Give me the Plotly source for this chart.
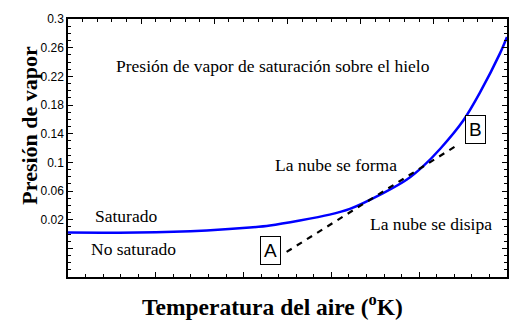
import plotly.graph_objects as go

# Saturation vapour pressure curve (x in arbitrary temperature units 0..5)
curve_x = [0.0, 0.79, 1.58, 2.07, 2.30, 2.98, 3.21, 3.59, 3.86, 4.04, 4.24, 4.50, 4.69, 4.92, 5.0]
curve_y = [0.002, 0.002, 0.005, 0.009, 0.012, 0.027, 0.035, 0.057, 0.076, 0.094, 0.119, 0.158, 0.197, 0.252, 0.275]

# Dashed path from A to B
path_x = [2.49, 4.46]
path_y = [-0.025, 0.126]

ytick_vals = [0.02, 0.06, 0.1, 0.14, 0.18, 0.22, 0.26, 0.3]
ytick_text = ["0.02", "0.06", "0.1", "0.14", "0.18", "0.22", "0.26", "0.3"]
yextra_tick = [-0.02]

labels = [
    ("Presión de vapor de saturación sobre el hielo", 2.33, 0.234),
    ("Saturado", 0.66, 0.0254),
    ("No saturado", 0.746, -0.0213),
    ("La nube se forma", 3.058, 0.0968),
    ("La nube se disipa", 4.13, 0.0144),
]
boxes = [("A", 2.31, -0.0227), ("B", 4.64, 0.146)]

serif = "Liberation Serif"
sans = "Liberation Sans"

fig = go.Figure()
fig.add_trace(go.Scatter(x=curve_x, y=curve_y, mode="lines",
                         line=dict(color="#0000ff", width=2.5, shape="spline", smoothing=0.8),
                         showlegend=False, hoverinfo="skip"))
fig.add_trace(go.Scatter(x=path_x, y=path_y, mode="lines",
                         line=dict(color="black", width=2.2, dash="6px,6px"),
                         showlegend=False, hoverinfo="skip"))
# invisible traces for auxiliary axes
fig.add_trace(go.Scatter(x=[0, 6], y=[0, 0], xaxis="x2", mode="markers",
                         marker=dict(opacity=0), showlegend=False, hoverinfo="skip"))
fig.add_trace(go.Scatter(x=[0, 5], y=[0, 0], yaxis="y2", mode="markers",
                         marker=dict(opacity=0), showlegend=False, hoverinfo="skip"))

annotations = []
for t, x, y in labels:
    annotations.append(dict(text=t, x=x, y=y, xref="x", yref="y", showarrow=False,
                            font=dict(family=serif, size=17.5, color="black")))
for t, x, y in boxes:
    annotations.append(dict(text=t, x=x, y=y, xref="x", yref="y", showarrow=False,
                            font=dict(family=sans, size=19, color="black"),
                            bordercolor="black", borderwidth=1, borderpad=3,
                            bgcolor="white"))
annotations.append(dict(text="Temperatura del aire (<sup>o</sup>K)", x=0.466, y=-0.107,
                        xref="paper", yref="paper", showarrow=False, yanchor="middle",
                        font=dict(family=serif, size=23.5, color="black", weight="bold")))
annotations.append(dict(text="Presión de vapor", x=-0.121, y=0.588, textangle=-90,
                        xref="paper", yref="paper", showarrow=False,
                        font=dict(family=serif, size=22, color="black", weight="bold")))

fig.update_layout(
    width=528, height=329,
    margin=dict(l=68, r=21, t=15, b=52),
    paper_bgcolor="white", plot_bgcolor="white",
    annotations=annotations,
    xaxis=dict(range=[0, 5], showgrid=False, zeroline=False, showline=True,
               linecolor="black", linewidth=1.5, ticks="inside", ticklen=5,
               tickcolor="black", dtick=1, tick0=0, showticklabels=False,
               minor=dict(ticks="inside", ticklen=3, dtick=0.2, tickcolor="black")),
    xaxis2=dict(range=[0, 6], overlaying="x", side="top", showgrid=False,
                zeroline=False, showline=True, linecolor="black", linewidth=1.5,
                ticks="inside", ticklen=5, tickcolor="black", dtick=1, tick0=0,
                showticklabels=False,
                minor=dict(ticks="inside", ticklen=3, dtick=0.2, tickcolor="black")),
    yaxis=dict(range=[-0.06, 0.3], showgrid=False, zeroline=False, showline=True,
               linecolor="black", linewidth=1.5, mirror="ticks", ticks="inside",
               ticklen=5, tickcolor="black", tickmode="array", tickvals=ytick_vals,
               ticktext=ytick_text, tickfont=dict(family=sans, size=12, color="black"),
               minor=dict(ticks="inside", ticklen=3, dtick=0.01, tick0=0.0,
                          tickcolor="black")),
    yaxis2=dict(range=[-0.06, 0.3], overlaying="y", side="left", showgrid=False,
                zeroline=False, showline=False, mirror="ticks", ticks="inside",
                ticklen=5, tickcolor="black", tickmode="array", tickvals=yextra_tick,
                showticklabels=False),
)

fig.write_html("out.html")
